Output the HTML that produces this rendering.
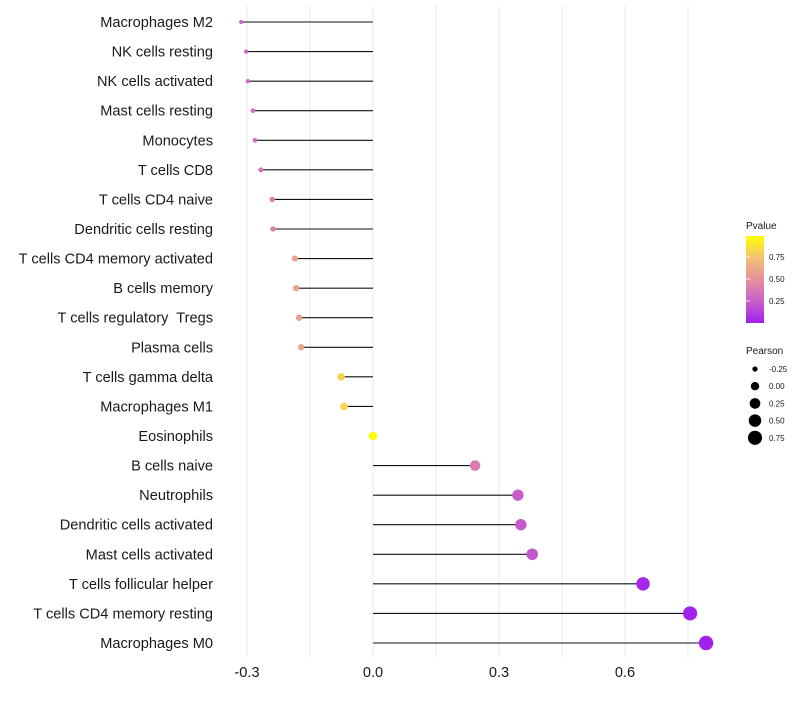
<!DOCTYPE html>
<html><head><meta charset="utf-8"><style>
body{margin:0;background:#fff;font-family:"Liberation Sans",sans-serif}
svg text{font-family:"Liberation Sans",sans-serif;white-space:pre}
</style></head><body>
<svg id="chart" width="800" height="700" xmlns="http://www.w3.org/2000/svg">
<g id="grid"></g>
<g id="marks"></g>
<g id="ylabels"></g>
<g id="xlabels"></g>
<g id="legend">
<defs><linearGradient id="pg" x1="0" y1="1" x2="0" y2="0">
<stop offset="0" stop-color="#a020f0"/><stop offset="0.25" stop-color="#c860c8"/><stop offset="0.5" stop-color="#e6909c"/><stop offset="0.75" stop-color="#f5c074"/><stop offset="1" stop-color="#ffff00"/></linearGradient></defs>
<text x="746" y="229" font-size="10" fill="#1a1a1a">Pvalue</text>
<rect x="746" y="236" width="18" height="87" fill="url(#pg)"/>
<g id="cticks"></g>
<text x="746" y="354" font-size="10" fill="#1a1a1a">Pearson</text>
<g id="sizelegend"></g>
</g>
</svg>
<script>
const categories=["Macrophages M2","NK cells resting","NK cells activated","Mast cells resting","Monocytes","T cells CD8","T cells CD4 naive","Dendritic cells resting","T cells CD4 memory activated","B cells memory","T cells regulatory  Tregs","Plasma cells","T cells gamma delta","Macrophages M1","Eosinophils","B cells naive","Neutrophils","Dendritic cells activated","Mast cells activated","T cells follicular helper","T cells CD4 memory resting","Macrophages M0"];
const pearson=[-0.314,-0.302,-0.298,-0.286,-0.281,-0.267,-0.240,-0.238,-0.186,-0.183,-0.176,-0.171,-0.076,-0.069,0.0,0.243,0.345,0.352,0.379,0.643,0.755,0.793];
const pvalues=[0.28,0.29,0.3,0.33,0.34,0.37,0.4,0.41,0.58,0.58,0.59,0.6,0.82,0.83,1.0,0.4,0.24,0.23,0.22,0.03,0.01,0.005];
const xTicks=[-0.3,0,0.3,0.6];
const xTickLabels=["-0.3","0.0","0.3","0.6"];
const xMinor=[-0.15,0.15,0.45,0.75];
const colorTicks=[0.25,0.5,0.75];
const sizeLegendValues=[-0.25,0,0.25,0.5,0.75];
const NS="http://www.w3.org/2000/svg";
const X=v=>373+v*420;
const Y=i=>22+i*(621/21);
const R=v=>Math.sqrt(Math.max(3,17.6+43*v));
const PY=p=>323-p*88;
const stops=[[0,[160,32,240]],[0.25,[200,96,200]],[0.5,[230,144,156]],[0.75,[245,192,116]],[1,[255,255,0]]];
function col(p){for(let k=0;k<stops.length-1;k++){const a=stops[k],b=stops[k+1];if(p<=b[0]){const t=(p-a[0])/(b[0]-a[0]);const c=a[1].map((v,j)=>Math.round(v+(b[1][j]-v)*t));return `rgb(${c})`;}}return "rgb(255,255,0)";}
function mk(tag,attrs,parent){const e=document.createElementNS(NS,tag);for(const k in attrs)e.setAttribute(k,attrs[k]);parent.appendChild(e);return e;}
const grid=document.getElementById('grid');
xTicks.concat(xMinor).forEach(v=>{const l=mk('line',{x1:X(v),x2:X(v),y1:5,y2:658,stroke:'#ebebeb','stroke-width':1},grid);

});
const xl=document.getElementById('xlabels');
xTicks.forEach((v,i)=>{const t=mk('text',{x:X(v),y:677,'font-size':14.6,fill:'#1a1a1a','text-anchor':'middle'},xl);t.textContent=xTickLabels[i];

});
const marks=document.getElementById('marks'),yl=document.getElementById('ylabels');
categories.forEach((c,i)=>{const y=Y(i);
const s=mk('line',{x1:X(0),x2:X(pearson[i]),y1:y,y2:y,stroke:'#111','stroke-width':1.1},marks);


const d=mk('circle',{cx:X(pearson[i]),cy:y,r:R(pearson[i]),fill:col(pvalues[i])},marks);


const t=mk('text',{x:213,y:y+5,'font-size':14.6,fill:'#1a1a1a','text-anchor':'end'},yl);t.textContent=c;

});
const ct=document.getElementById('cticks');
colorTicks.forEach(p=>{const y=PY(p);
const a=mk('line',{x1:746,x2:750,y1:y,y2:y,stroke:'#fff','stroke-width':0.8},ct);


const t=mk('text',{x:769,y:y+3,'font-size':8,fill:'#1a1a1a'},ct);t.textContent=p.toFixed(2);

});
const sl=document.getElementById('sizelegend');
sizeLegendValues.forEach((v,i)=>{const y=369+i*17.2;
const c=mk('circle',{cx:755,cy:y,r:R(v),fill:'#000'},sl);


const t=mk('text',{x:769,y:y+3,'font-size':8,fill:'#1a1a1a'},sl);t.textContent=v.toFixed(2);

});
</script>
</body></html>
